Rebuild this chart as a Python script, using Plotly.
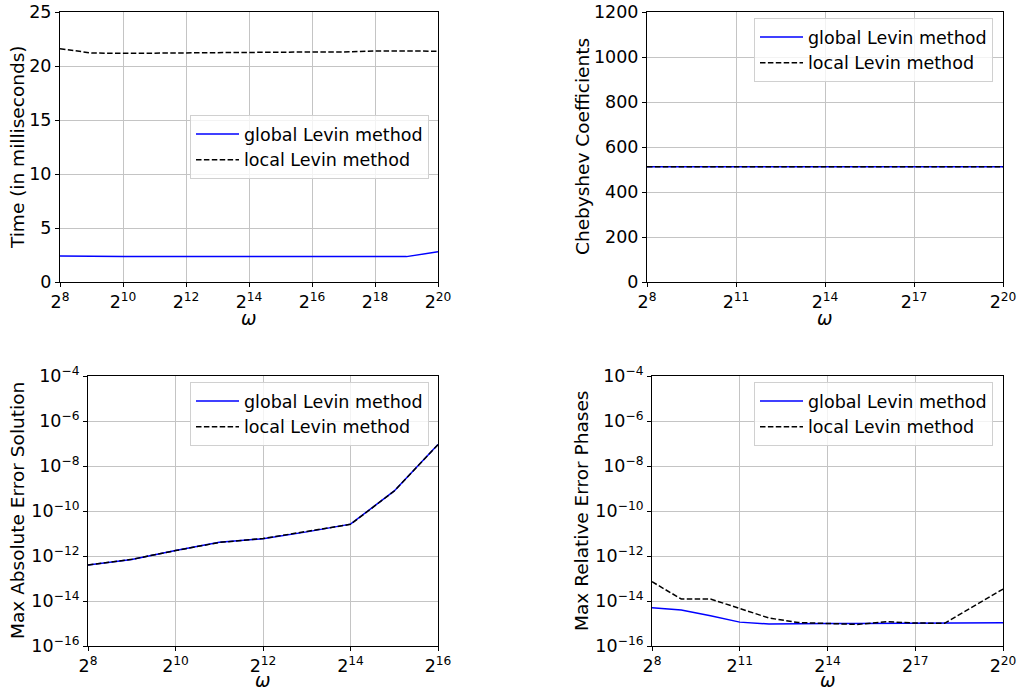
import math
import plotly.graph_objects as go

# ---------------- data ----------------
exp_full = [8, 9, 10, 11, 12, 13, 14, 15, 16, 17, 18, 19, 20]
exp_short = [8, 9, 10, 11, 12, 13, 14, 15, 16]

time_global = [2.4, 2.35, 2.35, 2.35, 2.35, 2.35, 2.35, 2.35, 2.35, 2.35, 2.35, 2.35, 2.8]
time_local = [21.6, 21.2, 21.17, 21.2, 21.2, 21.22, 21.22, 21.3, 21.3, 21.3, 21.4, 21.4, 21.36]

cheb_global = [512] * 13
cheb_local = [512] * 13

abs_err_global = [4.0e-13, 7.0e-13, 1.75e-12, 4.1e-12, 5.9e-12, 1.18e-11, 2.6e-11, 7.8e-10, 9.0e-8]
abs_err_local = [4.0e-13, 7.1e-13, 1.74e-12, 4.0e-12, 6.0e-12, 1.2e-11, 2.55e-11, 7.7e-10, 8.9e-8]

rel_err_global = [5.0e-15, 4.0e-15, 2.2e-15, 1.15e-15, 9.5e-16, 1.0e-15, 1.0e-15, 1.0e-15, 1.03e-15,
                  1.05e-15, 1.05e-15, 1.08e-15, 1.08e-15]
rel_err_local = [7.2e-14, 1.23e-14, 1.23e-14, 4.6e-15, 1.75e-15, 1.1e-15, 1.02e-15, 9.1e-16, 1.2e-15,
                 1.05e-15, 1.02e-15, 5.8e-15, 3.4e-14]

ticks_top_left = [8, 10, 12, 14, 16, 18, 20]
ticks_step3 = [8, 11, 14, 17, 20]
ticks_bottom_left = [8, 10, 12, 14, 16]
log_ticks = [-16, -14, -12, -10, -8, -6, -4]

labels = ["global Levin method", "local Levin method"]
y_titles = ["Time (in milliseconds)", "Chebyshev Coefficients",
            "Max Absolute Error Solution", "Max Relative Error Phases"]

# ---------------- figure ----------------
W, H = 1019, 693
FONT = "DejaVu Sans"
TICK_SIZE = 17.5
LEG_SIZE = 17.5
TITLE_SIZE = 18.5

def px_x(p):
    return p / W

def px_y(p):
    return 1 - p / H

panels = [
    # (x0, x1, ytop, ybottom) in page pixels
    (60, 438, 12, 282),
    (647, 1003, 12, 282),
    (88, 438, 376, 646),
    (652, 1003, 376, 646),
]

omega_full = [2 ** k for k in exp_full]
omega_short = [2 ** k for k in exp_short]

series = [
    (omega_full, time_global, time_local),
    (omega_full, cheb_global, cheb_local),
    (omega_short, abs_err_global, abs_err_local),
    (omega_full, rel_err_global, rel_err_local),
]

xticks = [ticks_top_left, ticks_step3, ticks_bottom_left, ticks_step3]
xranges = [(8, 20), (8, 20), (8, 16), (8, 20)]

fig = go.Figure()

legend_names = ["legend", "legend2", "legend3", "legend4"]
legend_pos = [
    (429, 115),
    (993, 18),
    (429, 382),
    (993, 382),
]

for i, (xs, g, l) in enumerate(series):
    ax = "" if i == 0 else str(i + 1)
    fig.add_trace(go.Scatter(x=xs, y=g, mode="lines", name=labels[0],
                             line=dict(color="#0000ff", width=1.5),
                             xaxis="x" + ax, yaxis="y" + ax, legend=legend_names[i]))
    fig.add_trace(go.Scatter(x=xs, y=l, mode="lines", name=labels[1],
                             line=dict(color="black", width=1.5, dash="5.5px,2.4px"),
                             xaxis="x" + ax, yaxis="y" + ax, legend=legend_names[i]))

layout = dict(
    template="none",
    width=W, height=H,
    margin=dict(l=0, r=0, t=0, b=0, autoexpand=False),
    paper_bgcolor="white", plot_bgcolor="white",
    font=dict(family=FONT, size=TICK_SIZE, color="black"),
    showlegend=True,
)

axis_common = dict(
    showline=True, linecolor="black", linewidth=1, mirror=True,
    ticks="outside", ticklen=4, tickwidth=1, tickcolor="black",
    showgrid=True, gridcolor="#c4c4c4", gridwidth=1,
    zeroline=False, automargin=False,
    tickfont=dict(family=FONT, size=TICK_SIZE, color="black"),
)

annotations = []
for i, (x0, x1, yt, yb) in enumerate(panels):
    ax = "" if i == 0 else str(i + 1)
    xa = dict(axis_common)
    lo, hi = xranges[i]
    xa.update(type="log", range=[lo * math.log10(2), hi * math.log10(2)],
              domain=[px_x(x0), px_x(x1)], anchor="y" + ax,
              tickvals=[2 ** k for k in xticks[i]],
              ticktext=["2<sup>%d</sup>" % k for k in xticks[i]])
    ya = dict(axis_common)
    ya.update(domain=[px_y(yb), px_y(yt)], anchor="x" + ax)
    if i == 0:
        ya.update(range=[0, 25], tickvals=[0, 5, 10, 15, 20, 25])
    elif i == 1:
        ya.update(range=[0, 1200], tickvals=[0, 200, 400, 600, 800, 1000, 1200])
    else:
        ya.update(type="log", range=[-16, -4],
                  tickvals=[10.0 ** k for k in log_ticks],
                  ticktext=["10<sup>\u2212%d</sup>" % (-k) for k in log_ticks])
    layout["xaxis" + ax] = xa
    layout["yaxis" + ax] = ya

    # axis titles
    ytitle_x = [17, 582, 17, 581][i]
    annotations.append(dict(text=y_titles[i], x=px_x(ytitle_x), y=px_y((yt + yb) / 2),
                            xref="paper", yref="paper", showarrow=False, textangle=-90,
                            xanchor="center", yanchor="middle",
                            font=dict(family=FONT, size=TITLE_SIZE, color="black")))
    if i < 2:
        annotations.append(dict(text="<i>ω</i>", x=px_x((x0 + x1) / 2), y=px_y(yb + 37),
                                xref="paper", yref="paper", showarrow=False,
                                xanchor="center", yanchor="middle",
                                font=dict(family=FONT, size=TITLE_SIZE, color="black")))
    else:
        annotations.append(dict(text="<i>ω</i>", x=px_x((x0 + x1) / 2), y=0,
                                xref="paper", yref="paper", showarrow=False,
                                xanchor="center", yanchor="bottom",
                                font=dict(family=FONT, size=TITLE_SIZE, color="black")))

    lx, ly = legend_pos[i]
    layout[legend_names[i]] = dict(
        x=px_x(lx), y=px_y(ly), xanchor="right", yanchor="top",
        xref="paper", yref="paper",
        bgcolor="rgba(255,255,255,0.8)", bordercolor="#d0d0d0", borderwidth=1,
        font=dict(family=FONT, size=LEG_SIZE, color="black"),
        itemwidth=43,
    )

layout["annotations"] = annotations
fig.update_layout(**layout)

fig.write_html("out.html",
               config={"displayModeBar": False},
               post_script="document.body.style.margin='0';document.body.style.overflow='hidden';")
